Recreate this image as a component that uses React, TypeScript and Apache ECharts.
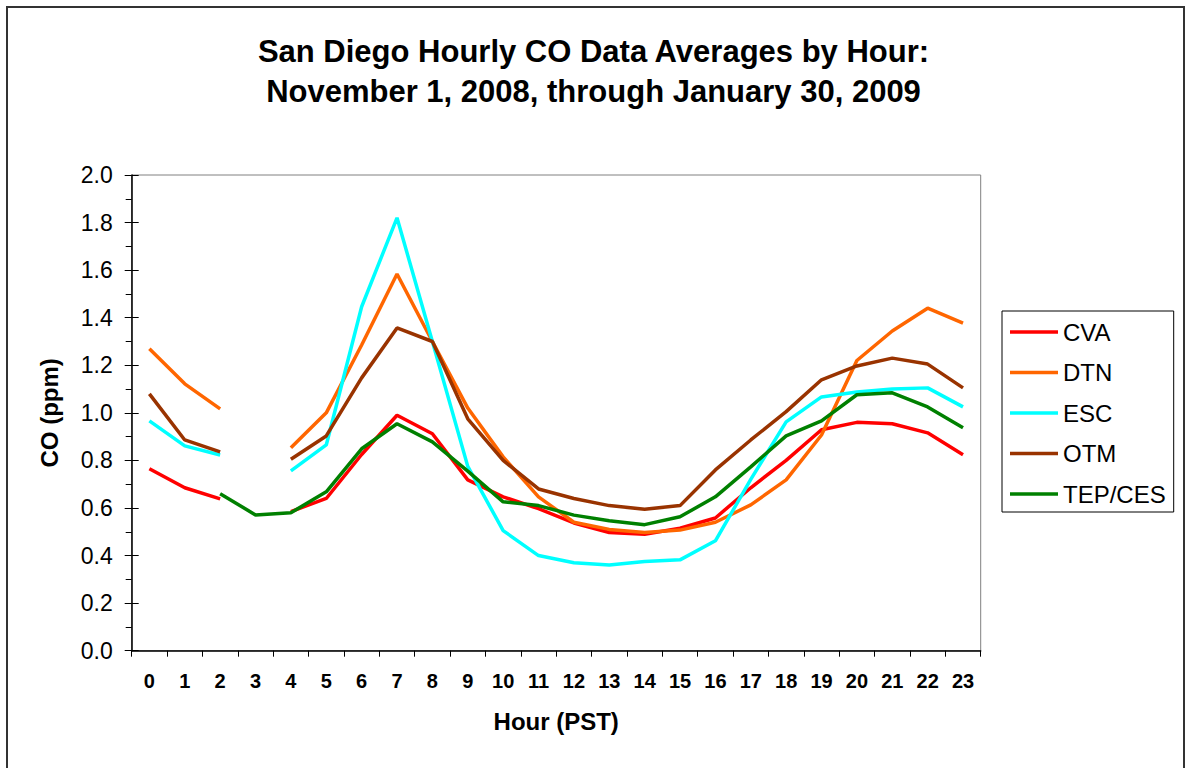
import React, { useEffect, useRef } from "react";
import * as echarts from "echarts";

const hours = ["0","1","2","3","4","5","6","7","8","9","10","11","12","13","14","15","16","17","18","19","20","21","22","23"];
const seriesNames = ["CVA", "DTN", "ESC", "OTM", "TEP/CES"];
const seriesColors = ["#FF0000", "#FF6600", "#00FFFF", "#993300", "#008000"];

const cva = [0.765, 0.685, 0.638, null, 0.585, 0.64, 0.825, 0.99, 0.912, 0.718, 0.647, 0.597, 0.537, 0.497, 0.49, 0.515, 0.558, 0.685, 0.8, 0.929, 0.96, 0.954, 0.916, 0.824];
const dtn = [1.269, 1.122, 1.017, null, 0.853, 1.0, 1.285, 1.584, 1.3, 1.02, 0.815, 0.647, 0.54, 0.51, 0.497, 0.507, 0.54, 0.613, 0.718, 0.907, 1.22, 1.344, 1.44, 1.377];
const esc = [0.966, 0.861, 0.823, null, 0.756, 0.865, 1.446, 1.82, 1.3, 0.775, 0.505, 0.4, 0.37, 0.36, 0.375, 0.382, 0.462, 0.72, 0.962, 1.067, 1.088, 1.1, 1.105, 1.025];
const otm = [1.08, 0.886, 0.836, null, 0.805, 0.903, 1.147, 1.357, 1.3, 0.975, 0.8, 0.68, 0.64, 0.61, 0.595, 0.61, 0.76, 0.886, 1.005, 1.139, 1.197, 1.23, 1.205, 1.105];
const tep = [null, null, 0.66, 0.571, 0.58, 0.668, 0.849, 0.954, 0.878, 0.755, 0.626, 0.61, 0.57, 0.546, 0.53, 0.563, 0.647, 0.773, 0.903, 0.966, 1.076, 1.084, 1.025, 0.937];

const allValues = [cva, dtn, esc, otm, tep];

const titleText = "San Diego Hourly CO Data Averages by Hour:\nNovember 1, 2008, through January 30, 2009";
const xName = "Hour (PST)";
const yName = "CO (ppm)";

export default function App() {
  const ref = useRef<HTMLDivElement>(null);
  useEffect(() => {
    document.body.style.margin = "0";
    if (!ref.current) return;
    const chart = echarts.init(ref.current, undefined, { renderer: "svg" });
    const font = "Arial, 'Liberation Sans', sans-serif";
    chart.setOption({
      animation: false,
      backgroundColor: "#ffffff",
      textStyle: { fontFamily: font },
      title: {
        text: titleText,
        left: "center",
        top: 31,
        padding: 0,
        textStyle: { fontSize: 31, fontWeight: "bold", color: "#000", lineHeight: 40, fontFamily: font },
      },
      graphic: [
        {
          type: "rect",
          shape: { x: 7, y: 7, width: 1177, height: 800 },
          style: { fill: "none", stroke: "#333", lineWidth: 2 },
          silent: true,
        },
      ],
      legend: {
        orient: "vertical",
        left: 1002,
        top: 311,
        padding: [9, 8, 6, 8],
        icon: "rect",
        itemWidth: 48,
        itemHeight: 3.5,
        itemGap: 16.5,
        borderColor: "#000",
        borderWidth: 1,
        textStyle: { fontSize: 24, lineHeight: 24, color: "#000", fontFamily: font },
        data: seriesNames,
      },
      grid: { left: 131.7, top: 175, right: 206.3, bottom: 117.3, show: true, borderColor: "#808080", borderWidth: 1 },
      xAxis: {
        type: "category",
        data: hours,
        boundaryGap: true,
        name: xName,
        nameLocation: "middle",
        nameGap: 59,
        nameTextStyle: { fontSize: 24, fontWeight: "bold", color: "#000", fontFamily: font },
        axisLine: { lineStyle: { color: "#000", width: 1.5 } },
        axisTick: { show: true, length: 6, lineStyle: { color: "#000" } },
        axisLabel: { fontSize: 20, fontWeight: "bold", color: "#000", margin: 20, interval: 0, fontFamily: font },
        splitLine: { show: false },
      },
      yAxis: [
        {
          type: "value",
          min: 0,
          max: 2,
          interval: 0.2,
          name: yName,
          nameLocation: "middle",
          nameRotate: 90,
          nameGap: 70,
          nameTextStyle: { fontSize: 24, fontWeight: "bold", color: "#000", fontFamily: font },
          axisLine: { show: true, lineStyle: { color: "#000", width: 1.5 } },
          axisTick: { show: true, length: 7, lineStyle: { color: "#000" } },
          minorTick: { show: true, splitNumber: 2, length: 6, lineStyle: { color: "#000" } },
          axisLabel: { fontSize: 23, color: "#000", margin: 19, formatter: (v: number) => v.toFixed(1), fontFamily: font },
          splitLine: { show: false },
        },
        {
          type: "value",
          min: 0,
          max: 2,
          interval: 0.2,
          position: "left",
          axisLine: { show: false },
          axisTick: { show: true, inside: true, length: 7, lineStyle: { color: "#000" } },
          axisLabel: { show: false },
          splitLine: { show: false },
        },
      ],
      series: seriesNames.map((name, i) => ({
        name,
        type: "line",
        yAxisIndex: 0,
        data: allValues[i],
        symbol: "none",
        showSymbol: false,
        connectNulls: false,
        color: seriesColors[i],
        lineStyle: { color: seriesColors[i], width: 3.5 },
        itemStyle: { color: seriesColors[i] },
      })),
    });
    return () => chart.dispose();
  }, []);
  return <div ref={ref} style={{ width: 1187, height: 768 }} />;
}
